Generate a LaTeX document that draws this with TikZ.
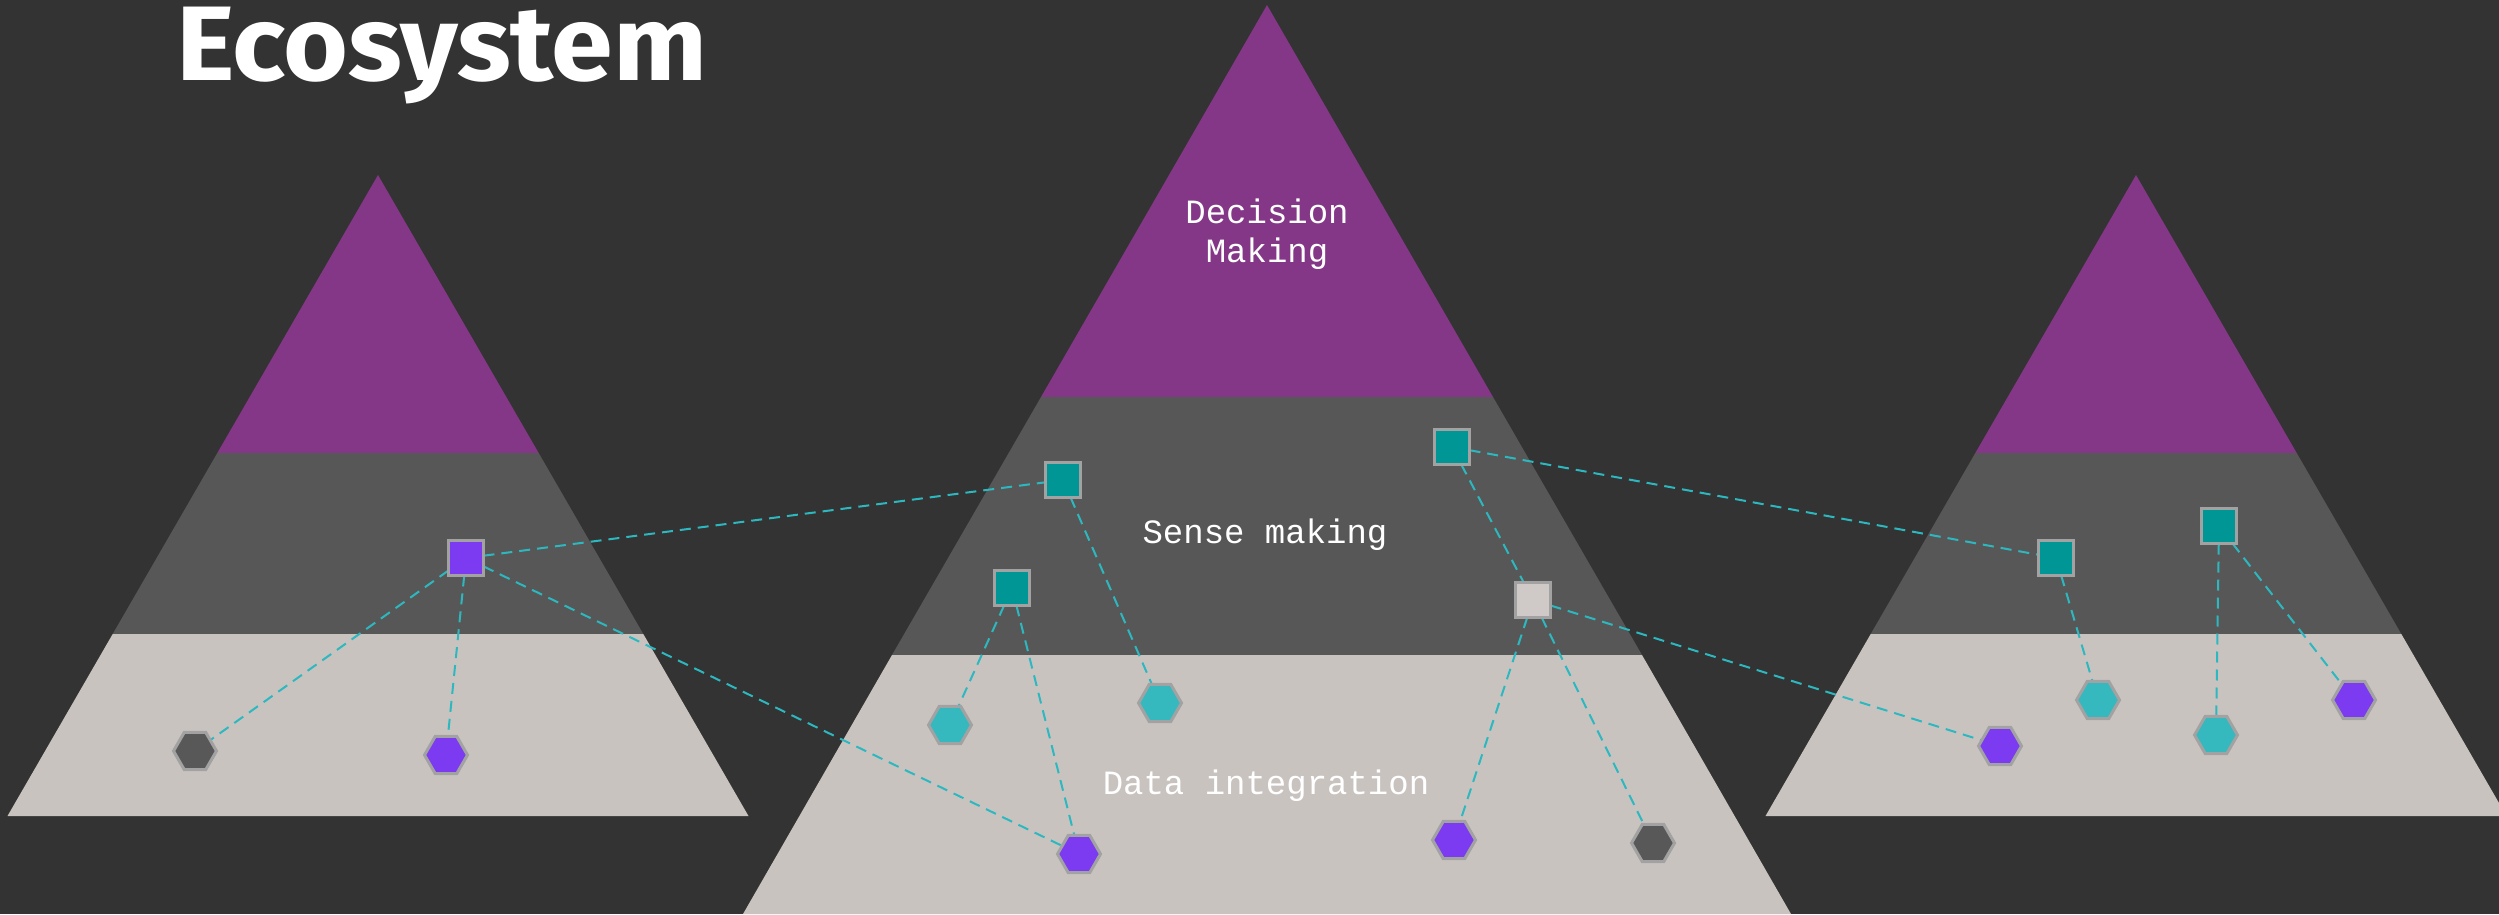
\documentclass[tikz,border=0pt]{standalone}
\usepackage{fontspec}
\setmonofont{Liberation Mono}
\newfontfamily\titlefont{Fira Sans}
\usetikzlibrary{shapes.geometric}
\definecolor{bgdark}{HTML}{333333}
\definecolor{pyrpurple}{HTML}{833786}
\definecolor{midgray}{HTML}{575757}
\definecolor{lightband}{HTML}{C9C3C0}
\definecolor{sqteal}{HTML}{009695}
\definecolor{violetnode}{HTML}{7C3BF0}
\definecolor{hexteal}{HTML}{35B9BE}
\definecolor{hexdark}{HTML}{585858}
\definecolor{sqlight}{HTML}{CFCAC7}
\definecolor{bordergray}{HTML}{A2A2A2}
\definecolor{linkteal}{HTML}{2DB8C0}
\pgfdeclarelayer{bglayer}
\pgfdeclarelayer{linklayer}
\pgfsetlayers{bglayer,linklayer,main}
\tikzset{
  sqnode/.style={rectangle, draw=bordergray, line width=3pt, minimum size=35pt, inner sep=0pt, outer sep=0pt},
  hexnode/.style={regular polygon, regular polygon sides=6, draw=bordergray, line width=3pt, minimum size=43pt, inner sep=0pt, outer sep=0pt},
  link/.style={draw=linkteal, line width=2pt, dash pattern=on 11pt off 7pt},
  label/.style={font=\ttfamily\fontsize{34pt}{39pt}\selectfont, text=white, anchor=base, inner sep=0pt},
}
\begin{document}
\begin{tikzpicture}[x=1pt,y=-1pt]
\useasboundingbox (0,0) rectangle (2499,914);
\clip (0,0) rectangle (2499,914);
\begin{pgfonlayer}{bglayer}
\fill[bgdark] (0,0) rectangle (2499,914);
% left pyramid
\fill[pyrpurple] (378,175) -- (217.3,453) -- (538.7,453) -- cycle;
\fill[midgray] (217.3,453) -- (538.7,453) -- (643.3,634) -- (112.7,634) -- cycle;
\fill[lightband] (112.7,634) -- (643.3,634) -- (748.5,816) -- (7.5,816) -- cycle;
% centre pyramid
\fill[pyrpurple] (1267,5) -- (1041,397) -- (1493,397) -- cycle;
\fill[midgray] (1041,397) -- (1493,397) -- (1642,655) -- (892,655) -- cycle;
\fill[lightband] (892,655) -- (1642,655) -- (1791,914) -- (743,914) -- cycle;
% right pyramid
\fill[pyrpurple] (2136,175) -- (1975.3,453) -- (2296.7,453) -- cycle;
\fill[midgray] (1975.3,453) -- (2296.7,453) -- (2401.3,634) -- (1870.7,634) -- cycle;
\fill[lightband] (1870.7,634) -- (2401.3,634) -- (2506.5,816) -- (1765.5,816) -- cycle;
\end{pgfonlayer}

\node[anchor=base west, inner sep=0pt, text=white, font=\titlefont\bfseries\fontsize{106pt}{110pt}\selectfont] (title) at (176,80) {\scalebox{1.05}[1]{Ecosystem}};

\node[label] (dm1) at (1267,223) {Decision};
\node[label] (dm2) at (1267,262) {Making};
\node[label] (sm) at (1265,543) {Sense making};
\node[label] (di) at (1266,794) {Data integration};

% left pyramid nodes
\node[sqnode, fill=violetnode] (l1) at (466,558) {};
\node[hexnode, fill=hexdark] (lh1) at (195,751) {};
\node[hexnode, fill=violetnode] (lh2) at (446,755) {};
% centre pyramid nodes
\node[sqnode, fill=sqteal] (c1) at (1063,480) {};
\node[sqnode, fill=sqteal] (c2) at (1012,588) {};
\node[sqnode, fill=sqteal] (c3) at (1452,447) {};
\node[sqnode, fill=sqlight] (c4) at (1533,600) {};
\node[hexnode, fill=hexteal] (ch1) at (950,725) {};
\node[hexnode, fill=hexteal] (ch2) at (1160,703) {};
\node[hexnode, fill=violetnode] (ch3) at (1079,854) {};
\node[hexnode, fill=violetnode] (ch4) at (1454,840) {};
\node[hexnode, fill=hexdark] (ch5) at (1653,843) {};
% right pyramid nodes
\node[sqnode, fill=sqteal] (r1) at (2056,558) {};
\node[sqnode, fill=sqteal] (r2) at (2219,526) {};
\node[hexnode, fill=hexteal] (rh1) at (2098,700) {};
\node[hexnode, fill=hexteal] (rh2) at (2216,735) {};
\node[hexnode, fill=violetnode] (rh3) at (2354,700) {};
\node[hexnode, fill=violetnode] (rh4) at (2000,746) {};

\begin{pgfonlayer}{linklayer}
\draw[link] (l1) -- (c1);
\draw[link] (l1) -- (lh1);
\draw[link] (l1) -- (lh2);
\draw[link] (l1) -- (ch3);
\draw[link] (c1) -- (ch2);
\draw[link] (c2) -- (ch1);
\draw[link] (c2) -- (ch3);
\draw[link] (c3) -- (r1);
\draw[link] (c3) -- (c4);
\draw[link] (c4) -- (ch4);
\draw[link] (c4) -- (ch5);
\draw[link] (c4) -- (rh4);
\draw[link] (r1) -- (rh1);
\draw[link] (r2) -- (rh2);
\draw[link] (r2) -- (rh3);
\end{pgfonlayer}
\end{tikzpicture}
\end{document}
